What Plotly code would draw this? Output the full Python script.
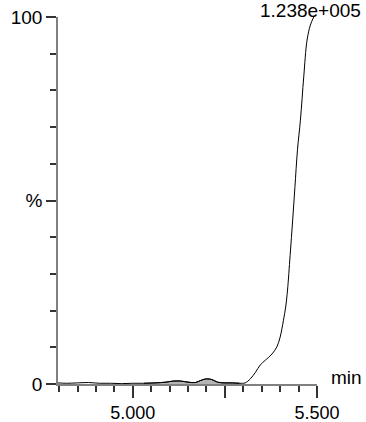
import plotly.graph_objects as go

# Retention time (min) and relative intensity (%)
time_min = [4.797, 4.82, 4.85, 4.88, 4.91, 4.94, 4.97, 5.00, 5.03, 5.06, 5.09, 5.11,
            5.13, 5.15, 5.17, 5.185, 5.20, 5.215, 5.23, 5.25, 5.27, 5.29, 5.305,
            5.319, 5.333, 5.346, 5.360, 5.378, 5.391, 5.400, 5.409, 5.415, 5.420,
            5.427, 5.434, 5.440, 5.447, 5.455, 5.464, 5.473, 5.482, 5.491]
intensity = [0.3, 0.2, 0.3, 0.4, 0.2, 0.2, 0.1, 0.2, 0.2, 0.3, 0.5, 0.8,
             0.8, 0.5, 0.4, 1.0, 1.4, 1.2, 0.5, 0.3, 0.3, 0.2, 0.3,
             1.4, 3.2, 5.2, 6.5, 8.2, 10.1, 12.8, 17.4, 21.0, 25.6,
             35.0, 44.7, 53.5, 63.8, 71.9, 83.7, 93.7, 97.8, 100.0]

fill_start, fill_end = 5.02, 5.30
x_tick_vals = [5.0, 5.25, 5.5]
x_tick_text = ["5.000", "", "5.500"]
y_tick_vals = [0, 50, 100]
y_tick_text = ["0", "%", "100"]
peak_label = "1.238e+005"
x_unit = "min"

fill_t = [t for t in time_min if fill_start <= t <= fill_end]
fill_i = [v for t, v in zip(time_min, intensity) if fill_start <= t <= fill_end]

font_family = "Liberation Sans, Arial, sans-serif"

fig = go.Figure()
fig.add_trace(go.Scatter(x=fill_t, y=fill_i, mode="lines", fill="tozeroy",
                         fillcolor="#b4b4b4", line=dict(color="black", width=1, shape="spline"),
                         hoverinfo="skip", showlegend=False))
fig.add_trace(go.Scatter(x=time_min, y=intensity, mode="lines",
                         line=dict(color="black", width=1, shape="spline"),
                         showlegend=False))

fig.update_layout(
    template="none",
    width=366, height=422,
    margin=dict(l=58, r=49, t=17, b=38, autoexpand=False),
    paper_bgcolor="white", plot_bgcolor="white",
    font=dict(family=font_family, size=19, color="black"),
    xaxis=dict(range=[4.797, 5.5], showgrid=False, zeroline=False, automargin=False,
               showline=True, linecolor="#808080", linewidth=1.5,
               ticks="outside", ticklen=12, tickwidth=1.5, tickcolor="#333333",
               tickvals=x_tick_vals, ticktext=x_tick_text, tickfont=dict(size=18),
               minor=dict(tick0=5.0, dtick=0.05, ticks="outside", ticklen=6,
                          tickwidth=1.5, tickcolor="#333333", showgrid=False)),
    yaxis=dict(range=[0, 100], showgrid=False, zeroline=False, automargin=False,
               showline=True, linecolor="#808080", linewidth=1.5,
               ticks="outside", ticklen=10, tickwidth=1.5, tickcolor="#333333",
               tickvals=y_tick_vals, ticktext=y_tick_text,
               minor=dict(tick0=0, dtick=10, ticks="outside", ticklen=6,
                          tickwidth=1.5, tickcolor="#333333", showgrid=False)),
    annotations=[
        dict(text=x_unit, xref="paper", x=1, xanchor="left", xshift=12,
             yref="y", y=0, yanchor="middle", yshift=7, showarrow=False,
             font=dict(size=19)),
        dict(text=peak_label, xref="x", x=5.491, xanchor="center", xshift=-3,
             yref="y", y=100, yanchor="middle", yshift=7, showarrow=False,
             font=dict(size=19)),
    ],
)

fig.write_html("out.html", config={"displayModeBar": False},
               post_script="document.body.style.margin='0';")
